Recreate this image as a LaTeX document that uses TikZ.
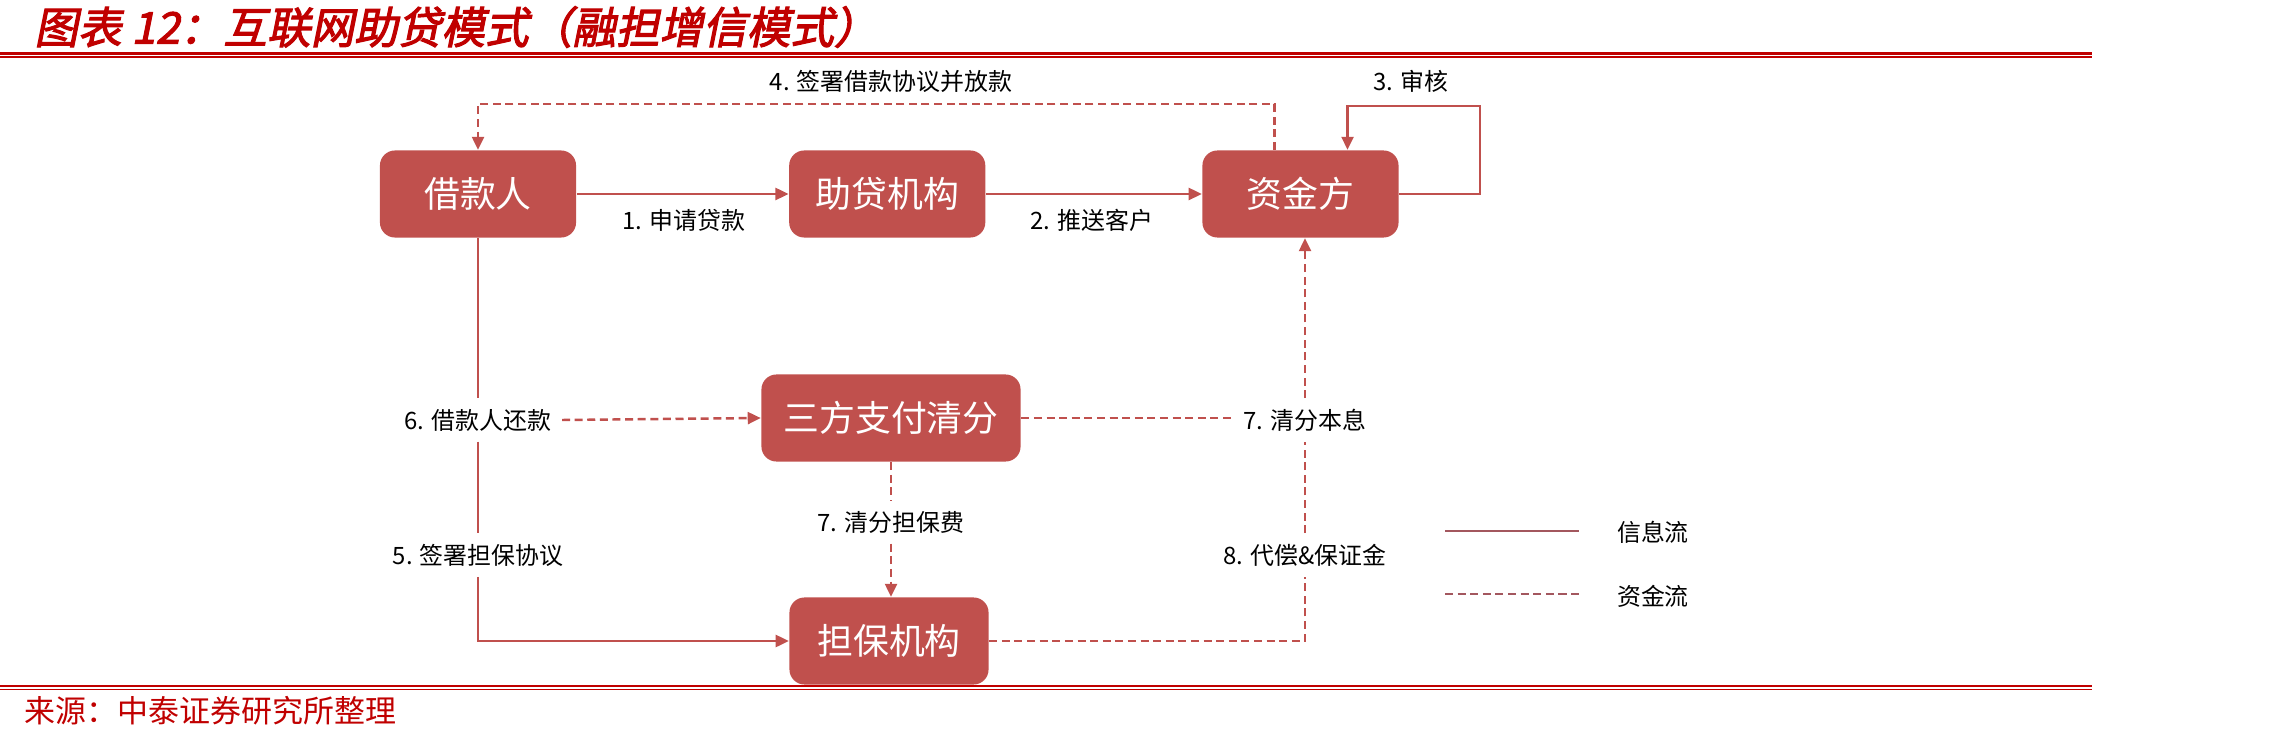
\documentclass[tikz,border=0pt]{standalone}
\usepackage{fontspec}
\setmainfont{Noto Sans CJK SC}
\newfontfamily\titlefont[FakeSlant=0.2, FakeBold=2.5]{Noto Sans CJK SC}
\usetikzlibrary{arrows.meta}
\definecolor{boxRed}{HTML}{C0504D}
\definecolor{titleRed}{HTML}{C00000}
\definecolor{legendRed}{HTML}{A3575E}
\tikzset{>={Triangle[length=1.3mm, width=1.2mm]}}
\tikzstyle{party} = [rectangle, rounded corners = 0.15cm, fill = boxRed, text = white, text centered, minimum width = 1.96cm, minimum height = 0.87cm, font = \fontsize{10.2pt}{12pt}\selectfont]
\tikzstyle{flowlabel} = [text centered, inner sep = 0.1cm, font = \fontsize{6.8pt}{8pt}\selectfont]
\tikzstyle{info} = [draw = boxRed, line width = 0.7pt]
\tikzstyle{money} = [draw = boxRed, line width = 0.7pt, dash pattern = on 0.08cm off 0.046cm]

\begin{document}
\begin{tikzpicture}[x = 0.01cm, y = -0.01cm]
    \useasboundingbox (0,0) rectangle (2273,740);
    \node (title) at (22,27) [anchor = west, text = titleRed, font = \titlefont\fontsize{12.4pt}{14pt}\selectfont] {图表 12：互联网助贷模式（融担增信模式）};
    \draw [titleRed, line width = 0.6pt] (0,53.5) -- (2092,53.5);
    \draw [titleRed, line width = 0.35pt] (0,57) -- (2092,57);
    \draw [titleRed, line width = 0.6pt] (0,686) -- (2092,686);
    \draw [titleRed, line width = 0.35pt] (0,689.5) -- (2092,689.5);
    \node (source) at (24,711) [anchor = west, inner sep = 0, text = titleRed, font = \fontsize{8.8pt}{10pt}\selectfont] {来源：中泰证券研究所整理};

    \node (borrower) at (478,194) [party] {借款人};
    \node (agency) [party, right of = borrower, node distance = 4.09cm] {助贷机构};
    \node (funder) [party, right of = agency, node distance = 4.13cm] {资金方};
    \node (clearing) at (891,418) [party, minimum width = 2.59cm] {三方支付清分};
    \node (guarantor) at (889,641) [party, minimum width = 1.99cm] {担保机构};

    \node (lblApply) at (684,220) [flowlabel] {1. 申请贷款};
    \node (lblPush) at (1092,220) [flowlabel] {2. 推送客户};
    \node (lblReview) at (1411,81) [flowlabel] {3. 审核};
    \node (lblLend) at (891,81) [flowlabel] {4. 签署借款协议并放款};
    \node (lblGuarantee) at (478,555) [flowlabel] {5. 签署担保协议};
    \node (lblRepay) at (478,420) [flowlabel] {6. 借款人还款};
    \node (lblFee) at (891,522) [flowlabel] {7. 清分担保费};
    \node (lblSettle) at (1305,420) [flowlabel] {7. 清分本息};
    \node (lblCover) at (1305,555) [flowlabel] {8. 代偿\&保证金};

    \coordinate (reviewLoop) at (1480,106);
    \coordinate (lendLine) at (891,104);

    \draw [->, info] (borrower) -- (agency);
    \draw [->, info] (agency) -- (funder);
    \draw [->, info] (funder.east) -| (reviewLoop) -| ([xshift = 0.47cm]funder.north);
    \draw [->, money] ([xshift = -0.26cm]funder.north) |- (lendLine) -| (borrower.north);
    \draw [info] (borrower.south) -- (lblRepay.north);
    \draw [info] (lblRepay.south) -- (lblGuarantee.north);
    \draw [->, info] (lblGuarantee.south) |- (guarantor.west);
    \draw [->, money] (lblRepay.east) -- (clearing.west);
    \draw [money] (lblFee.north |- clearing.south) -- (lblFee.north);
    \draw [->, money] (lblFee.south) -- (lblFee.south |- guarantor.north);
    \draw [money] (clearing.east) -- (clearing.east -| lblSettle.west);
    \draw [->, money] (lblSettle.north) -- (lblSettle.north |- funder.south);
    \draw [money] (lblCover.north) -- (lblSettle.south);
    \draw [money] (guarantor.east) -| (lblCover.south);

    \node (legendInfo) at (1653,532) [flowlabel] {信息流};
    \node (legendMoney) at (1653,596) [flowlabel] {资金流};
    \coordinate (infoStart) at (1445,531);
    \coordinate (infoEnd) at (1579,531);
    \coordinate (moneyStart) at (1445,594);
    \coordinate (moneyEnd) at (1579,594);
    \draw [legendRed, line width = 0.7pt] (infoStart) -- (infoEnd);
    \draw [legendRed, line width = 0.7pt, dash pattern = on 0.08cm off 0.046cm] (moneyStart) -- (moneyEnd);
\end{tikzpicture}
\end{document}
